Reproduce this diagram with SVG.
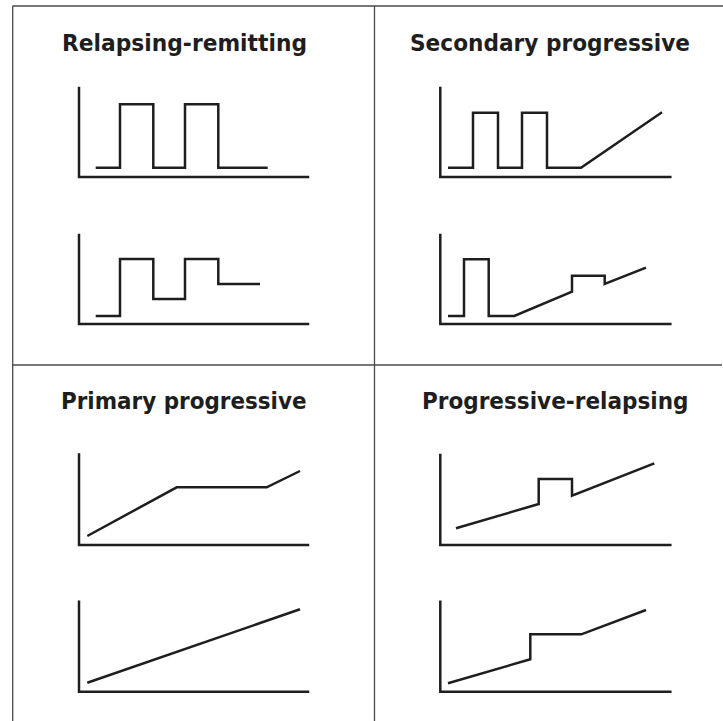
<svg xmlns="http://www.w3.org/2000/svg" width="723" height="721" viewBox="0 0 723 721">
  <style>
    .frame { stroke: #4a4a4a; stroke-width: 1.3; fill: none; }
    .axis { stroke: #1e1e1e; stroke-width: 2.5; fill: none; stroke-linecap: square; }
    .trace { stroke: #1e1e1e; stroke-width: 2.5; fill: none; stroke-linejoin: miter; stroke-linecap: butt; }
    .title { font-family: "DejaVu Sans", Verdana, sans-serif; font-weight: bold; font-size: 23.5px; fill: #1e1e1e; }
  </style>
  <rect width="723" height="721" fill="#ffffff"/>

  <!-- panel frame -->
  <g id="frame">
    <line class="frame" x1="12.7" y1="6" x2="723" y2="6"/>
    <line class="frame" x1="12.7" y1="6" x2="12.7" y2="721"/>
    <line class="frame" x1="374.5" y1="6" x2="374.5" y2="721"/>
    <line class="frame" x1="12.7" y1="365" x2="722" y2="365"/>
  </g>

  <!-- Relapsing-remitting -->
  <g id="relapsing-remitting">
    <text class="title" x="62" y="51" textLength="245" lengthAdjust="spacingAndGlyphs">Relapsing-remitting</text>
    <path class="axis" d="M79,88 V177 H308"/>
    <path class="trace" d="M95.7,167.7 H120 V104.3 H153.3 V167.7 H185 V104.3 H218.3 V167.7 H267.7"/>
    <path class="axis" d="M79,235 V324 H308"/>
    <path class="trace" d="M95.7,316 H120 V259 H153.3 V299 H185 V259 H218.3 V284 H260"/>
  </g>

  <!-- Secondary progressive -->
  <g id="secondary-progressive">
    <text class="title" x="410" y="51" textLength="280" lengthAdjust="spacingAndGlyphs">Secondary progressive</text>
    <path class="axis" d="M440.3,88 V177 H670.3"/>
    <path class="trace" d="M448,167.7 H473 V112.7 H498 V167.7 H522 V112.7 H547 V167.7 H581 L662,112.3"/>
    <path class="axis" d="M440.3,235 V324 H670.3"/>
    <path class="trace" d="M448,316 H464 V259.3 H488.7 V316 H514.3 L572,291.7 V275.7 H604.7 V284 L646,267.7"/>
  </g>

  <!-- Primary progressive -->
  <g id="primary-progressive">
    <text class="title" x="61" y="409.3" textLength="245.5" lengthAdjust="spacingAndGlyphs">Primary progressive</text>
    <path class="axis" d="M79,454.5 V545 H308"/>
    <path class="trace" d="M87.3,536 L176.7,487.3 H266.7 L300,471"/>
    <path class="axis" d="M79,601.7 V691.7 H308"/>
    <path class="trace" d="M87.3,682.7 L300,609.3"/>
  </g>

  <!-- Progressive-relapsing -->
  <g id="progressive-relapsing">
    <text class="title" x="422" y="409.3" textLength="266.5" lengthAdjust="spacingAndGlyphs">Progressive-relapsing</text>
    <path class="axis" d="M440.3,455 V545 H670.3"/>
    <path class="trace" d="M456,528.3 L538.7,504 V479 H572 V495.7 L654.3,463.3"/>
    <path class="axis" d="M440.3,601.7 V691.7 H670.3"/>
    <path class="trace" d="M448,683.3 L530.3,659.3 V634.3 H581.3 L646,610"/>
  </g>
</svg>
